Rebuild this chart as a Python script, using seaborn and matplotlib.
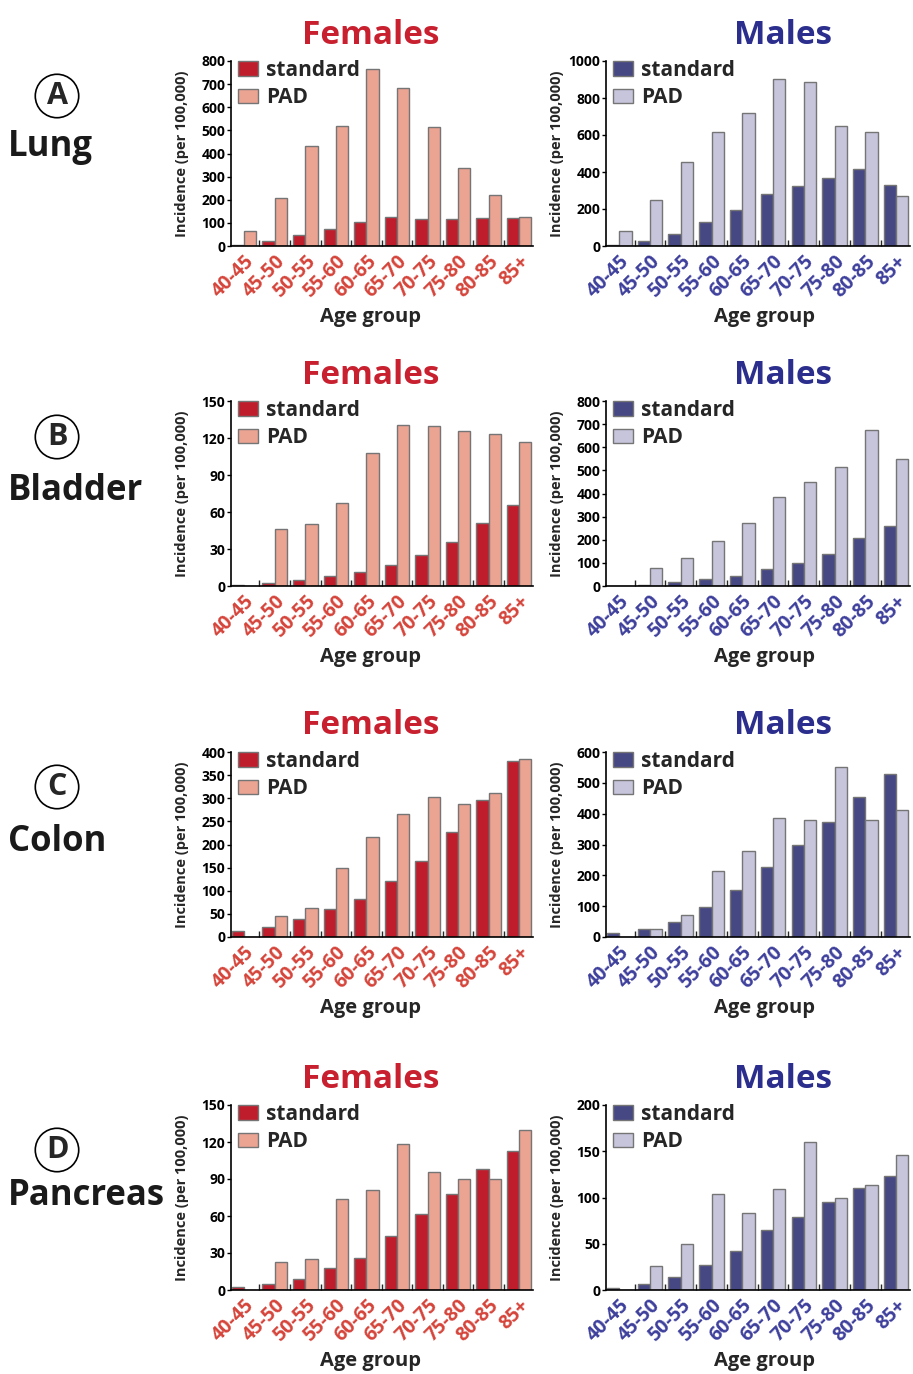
import numpy as np
import pandas as pd
import matplotlib
matplotlib.use("Agg")
import matplotlib.pyplot as plt
import matplotlib.transforms as mtransforms
from matplotlib.ticker import MultipleLocator, FixedLocator
import seaborn as sns

sns.set_style("white")
plt.rcParams['font.family'] = ['Open Sans', 'DejaVu Sans']
plt.rcParams['font.weight'] = 'bold'

age_groups = ["40-45", "45-50", "50-55", "55-60", "60-65", "65-70", "70-75", "75-80", "80-85", "85+"]

lung_f_std = [5, 20, 47, 75, 103, 125, 118, 118, 122, 122]
lung_f_pad = [66, 209, 433, 517, 765, 684, 513, 336, 222, 124]
lung_m_std = [8, 25, 65, 128, 195, 282, 324, 369, 418, 331]
lung_m_pad = [83, 248, 456, 617, 721, 902, 884, 649, 617, 268]

bladder_f_std = [0.5, 2.7, 4.6, 7.9, 11.6, 17, 25, 36, 51, 66]
bladder_f_pad = [0, 46, 50, 67, 108, 130.5, 130, 126, 123, 117]
bladder_m_std = [0, 6, 16, 29, 45, 74, 101, 139, 206, 261]
bladder_m_pad = [0, 78, 123, 195, 274, 383, 449, 514, 676, 550]

colon_f_std = [13, 22, 39, 61, 82, 121, 164, 228, 297, 380]
colon_f_pad = [0, 46, 63, 149, 217, 266, 302, 287, 312, 385]
colon_m_std = [14, 26, 49, 97, 154, 227, 300, 374, 455, 529]
colon_m_pad = [0, 26, 72, 214, 279, 387, 380, 551, 381, 413]

pancreas_f_std = [2.4, 4.9, 9.2, 18, 25.7, 44, 61.5, 77.5, 98, 113]
pancreas_f_pad = [0, 22.7, 25, 74, 80.7, 118.6, 95.8, 90, 89.6, 130]
pancreas_m_std = [2.5, 7, 14, 27, 42, 64.5, 79, 95, 110.5, 123.5]
pancreas_m_pad = [0, 26, 50, 103.6, 83, 109, 160.5, 99, 113, 146]

cancers = ["Lung", "Bladder", "Colon", "Pancreas"]
letters = ["A", "B", "C", "D"]
series = {
    ("Lung", "F"): (lung_f_std, lung_f_pad),
    ("Lung", "M"): (lung_m_std, lung_m_pad),
    ("Bladder", "F"): (bladder_f_std, bladder_f_pad),
    ("Bladder", "M"): (bladder_m_std, bladder_m_pad),
    ("Colon", "F"): (colon_f_std, colon_f_pad),
    ("Colon", "M"): (colon_m_std, colon_m_pad),
    ("Pancreas", "F"): (pancreas_f_std, pancreas_f_pad),
    ("Pancreas", "M"): (pancreas_m_std, pancreas_m_pad),
}
yaxis = {
    ("Lung", "F"): (800, 100), ("Lung", "M"): (1000, 200),
    ("Bladder", "F"): (150, 30), ("Bladder", "M"): (800, 100),
    ("Colon", "F"): (400, 50), ("Colon", "M"): (600, 100),
    ("Pancreas", "F"): (150, 30), ("Pancreas", "M"): (200, 50),
}

W, H = 913, 1374
fig = plt.figure(figsize=(W / 100, H / 100), dpi=100)

styles = {
    "F": dict(std="#c01d2c", pad="#eba392", tick="#d5443a", title="#c8202f", name="Females"),
    "M": dict(std="#464884", pad="#c6c5dc", tick="#3d3f9c", title="#2b2e8c", name="Males"),
}
row_tops = [61, 401, 752, 1105]
row_h = 185
col_x = {"F": (231, 302), "M": (606, 304)}
title_x = {"F": 371, "M": 783}
xlabel_x = {"F": 370, "M": 764}
circle_y = [96, 437, 787, 1150]
name_y = [147, 491, 842, 1196]

label_shift = mtransforms.ScaledTranslation(-9 / 100, -5 / 100, fig.dpi_scale_trans)

for r, cancer in enumerate(cancers):
    for sex in ["F", "M"]:
        st = styles[sex]
        x0, w = col_x[sex]
        top = row_tops[r]
        ax = fig.add_axes([x0 / W, 1 - (top + row_h) / H, w / W, row_h / H])
        std, pad = series[(cancer, sex)]
        df = pd.DataFrame({
            "Age group": age_groups * 2,
            "value": list(std) + list(pad),
            "type": ["standard"] * 10 + ["PAD"] * 10,
        })
        sns.barplot(data=df, x="Age group", y="value", hue="type", ax=ax,
                    palette={"standard": st["std"], "PAD": st["pad"]},
                    width=0.8, edgecolor="#757575", linewidth=1.0, saturation=1)
        ymax, ystep = yaxis[(cancer, sex)]
        ax.set_ylim(0, ymax)
        ax.set_xlim(-0.43, 9.45)
        ax.yaxis.set_major_locator(MultipleLocator(ystep))
        ax.tick_params(axis="y", direction="out", length=3, width=1, labelsize=10,
                       colors="black", pad=1, left=True)
        for t in ax.get_yticklabels():
            t.set_fontweight("bold")
        ax.set_xticks(range(10))
        ax.set_xticklabels(age_groups, rotation=45, ha="right", rotation_mode="anchor",
                           color=st["tick"], fontsize=14, fontweight="bold")
        for t in ax.get_xticklabels():
            t.set_transform(t.get_transform() + label_shift)
        ax.tick_params(axis="x", which="major", length=0, pad=4)
        ax.xaxis.set_minor_locator(FixedLocator(np.arange(0.5, 9.5, 1.0)))
        ax.tick_params(axis="x", which="minor", direction="in", length=4, width=1, bottom=True)
        ax.set_xlabel("Age group", fontsize=14.5, fontweight="bold")
        ax.xaxis.set_label_coords((xlabel_x[sex] - x0) / w, -61 / row_h)
        ax.set_ylabel("Incidence (per 100,000)", fontsize=10.5, fontweight="bold")
        ax.yaxis.set_label_coords(-42 / w, 0.5)
        for s in ["top", "right"]:
            ax.spines[s].set_visible(False)
        for s in ["left", "bottom"]:
            ax.spines[s].set_color("black")
            ax.spines[s].set_linewidth(1.2)
        handles, labels = ax.get_legend_handles_labels()
        ax.legend(handles, labels, loc="upper left", bbox_to_anchor=(0.0, 1.045),
                  frameon=False, prop={"weight": "bold", "size": 15},
                  handlelength=0.95, handleheight=0.7, handletextpad=0.4,
                  labelspacing=0.3, borderaxespad=0.15, borderpad=0.2)
        fig.text(title_x[sex] / W, 1 - (top - 26) / H, st["name"], color=st["title"],
                 fontsize=24, fontweight="bold", ha="center", va="center")
    fig.text(57 / W, 1 - circle_y[r] / H, letters[r], fontsize=22, fontweight="bold",
             ha="center", va="center",
             bbox=dict(boxstyle="circle,pad=0.22", fc="white", ec="black", lw=1.2))
    fig.text(8 / W, 1 - name_y[r] / H, cancer, fontsize=25, fontweight="bold",
             ha="left", va="center", color="#1a1a1a")

fig.savefig("out.png", dpi=100)
